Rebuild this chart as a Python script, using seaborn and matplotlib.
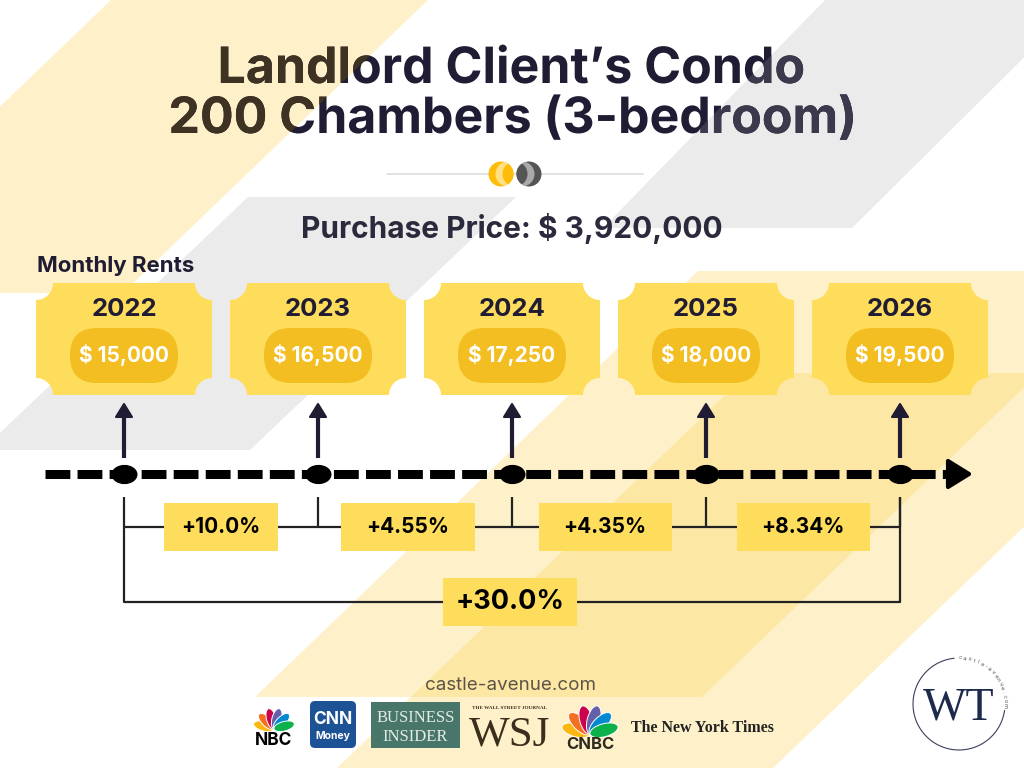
import numpy as np
import matplotlib
matplotlib.use('Agg')
import matplotlib.pyplot as plt
import seaborn as sns
from matplotlib.patches import Polygon, Rectangle, FancyBboxPatch, Ellipse, PathPatch
from matplotlib.path import Path
from matplotlib.textpath import TextPath
from matplotlib.font_manager import FontProperties
from matplotlib.transforms import Affine2D

title_lines = ['Landlord Client\u2019s Condo', '200 Chambers (3-bedroom)']
purchase_price = 3920000
years = ['2022', '2023', '2024', '2025', '2026']
rents = [15000, 16500, 17250, 18000, 19500]
step_labels = ['+10.0%', '+4.55%', '+4.35%', '+8.34%']
total_label = '+30.0%'
site = 'castle-avenue.com'

sns.set_theme(style='white')
plt.rcParams['font.family'] = ['Inter', 'DejaVu Sans']

navy = '#1f1c33'
tick_yellow = '#ffdd5c'
pill_yellow = '#f2be22'
soft_yellow = '#fdd661'
grey_bg = '#ebebeb'

fig = plt.figure(figsize=(10.24, 7.68), dpi=100)
ax = fig.add_axes([0, 0, 1, 1])
ax.set_xlim(0, 1024)
ax.set_ylim(768, 0)
ax.axis('off')

#%% background stripes
yellow_tl = [(111, 0), (428, 0), (123, 293), (-194, 293)]
yellow_a = [(698, 271), (1145, 271), (702, 697), (255, 697)]
yellow_b = [(748, 373), (1184, 373), (773, 768), (337, 768)]
grey_tr = [(825, 0), (1082, 0), (852, 228), (603, 228)]
grey_l = [(248, 197), (516, 197), (250, 450), (-18, 450)]

for poly in [yellow_tl, yellow_a, yellow_b]:
    ax.add_patch(Polygon(poly, closed=True, fc=soft_yellow, ec='none', alpha=0.34, zorder=1))
for poly in [grey_tr, grey_l]:
    ax.add_patch(Polygon(poly, closed=True, fc=grey_bg, ec='none', zorder=1))

#%% title as outlines so the stripes can tint the letters they cross
title_font = FontProperties(family='Inter', weight='bold')
for base, line in zip([83, 133], title_lines):
    tp = TextPath((0, 0), line, size=50, prop=title_font)
    ext = tp.get_extents()
    x0 = 512 - (ext.x0 + ext.x1) / 2
    path = Affine2D().scale(1, -1).translate(x0, base).transform_path(tp)
    ax.add_patch(PathPatch(path, fc=navy, ec='none', zorder=2))
    for poly, col in [(yellow_tl, '#3e3222'), (grey_tr, '#3b394b')]:
        p = PathPatch(path, fc=col, ec='none', zorder=3)
        ax.add_patch(p)
        p.set_clip_path(Polygon(poly, closed=True, transform=ax.transData))

# divider with the two half-tone dots
ax.plot([387, 643], [174, 174], color='#dedede', lw=1.2, zorder=2)
for cx, dark, light, off in [(501, '#fdbd0a', '#ffe083', 7), (529, '#555555', '#a9a9a9', -7)]:
    base_c = Ellipse((cx, 174), 25, 25, fc=dark, ec='none', zorder=3)
    ax.add_patch(base_c)
    lens = Ellipse((cx + off, 174), 25, 25, fc=light, ec='none', zorder=4)
    ax.add_patch(lens)
    lens.set_clip_path(base_c)
    inner = Ellipse((cx + 2 * off, 174), 25, 25, fc=dark, ec='none', zorder=5)
    ax.add_patch(inner)
    inner.set_clip_path(base_c)

ax.text(512, 238, f'Purchase Price: $ {purchase_price:,}', ha='center', va='baseline',
        fontsize=21.5, weight='bold', color='#2a2a3c', zorder=3)
ax.text(37, 272, 'Monthly Rents', ha='left', va='baseline', fontsize=16,
        weight='bold', color=navy, zorder=3)

#%% tickets
def ticket(x0, y0, x1, y1, r=17):
    def arc(cx, cy, a0, a1):
        a = np.radians(np.linspace(a0, a1, 24))
        return list(zip(cx + r * np.cos(a), cy + r * np.sin(a)))
    pts = arc(x1, y0, 180, 90) + arc(x1, y1, 270, 180) + arc(x0, y1, 360, 270) + arc(x0, y0, 90, 0)
    return Polygon(pts, closed=True, fc=tick_yellow, ec='none', zorder=4)

centers = [124 + 194 * i for i in range(len(years))]
for c, yr, rent in zip(centers, years, rents):
    ax.add_patch(ticket(c - 88, 283, c + 88, 395))
    ax.add_patch(FancyBboxPatch((c - 54, 328), 108, 55, boxstyle='round,pad=0,rounding_size=27',
                                fc=pill_yellow, ec='none', zorder=5))
    ax.text(c, 316, yr, ha='center', va='baseline', fontsize=18.5, weight='bold', color=navy, zorder=6)
    ax.text(c, 362, f'$ {rent:,}', ha='center', va='baseline', fontsize=15, weight='bold',
            color='white', zorder=6)
    # up arrow
    ax.plot([c, c], [416, 458], color=navy, lw=3, solid_capstyle='butt', zorder=5)
    ax.add_patch(Polygon([(c - 8, 417), (c + 8, 417), (c, 404)], closed=True, fc=navy, ec=navy,
                         lw=1.5, joinstyle='round', zorder=5))

#%% timeline
ax.plot([45, 950], [474, 474], color='black', lw=6.5, dashes=(2.75, 0.8),
        dash_capstyle='butt', zorder=5)
ax.add_patch(Polygon([(948, 461), (948, 487), (969, 474)], closed=True, fc='black', ec='black',
                     lw=3, joinstyle='round', zorder=5))
dot = Path(Affine2D().scale(1, 0.74).transform(Path.unit_circle().vertices), Path.unit_circle().codes)
sns.scatterplot(x=centers, y=[474] * len(centers), marker=dot, s=350, color='black',
                linewidth=0, legend=False, ax=ax, zorder=6)

# brackets
line_kw = dict(color='#222222', lw=1.6, zorder=4, solid_capstyle='butt')
for c in centers:
    ax.plot([c, c], [497, 527], **line_kw)
ax.plot([centers[0], centers[-1]], [527, 527], **line_kw)
ax.plot([centers[0], centers[0], centers[-1], centers[-1]], [527, 602, 602, 497], **line_kw)

box_w = [114, 134, 133, 133]
box_shift = [0, -7, -4, 0]
for i, (lab, w, sh) in enumerate(zip(step_labels, box_w, box_shift)):
    mid = (centers[i] + centers[i + 1]) / 2 + sh
    ax.add_patch(Rectangle((mid - w / 2, 503), w, 48, fc=tick_yellow, ec='none', zorder=5))
    ax.text(mid, 533, lab, ha='center', va='baseline', fontsize=15, weight='bold',
            color='black', zorder=6)
mid = (centers[0] + centers[-1]) / 2 - 2
ax.add_patch(Rectangle((mid - 67, 578), 134, 48, fc=tick_yellow, ec='none', zorder=5))
ax.text(mid, 609, total_label, ha='center', va='baseline', fontsize=19.5, weight='bold',
        color='black', zorder=6)

#%% footer
ax.text(511, 690, site, ha='center', va='baseline', fontsize=13.5, color='#5b5446', zorder=3)

def peacock(bx, by, L, W):
    cols = ['#fcb711', '#f37021', '#cc004c', '#6460aa', '#0089d0', '#0db14b']
    for a, col in zip(np.linspace(195, 345, 6), cols):
        r = np.radians(a)
        ax.add_patch(Ellipse((bx + 0.5 * L * np.cos(r), by + 0.5 * L * np.sin(r)), L, W,
                             angle=a, fc=col, ec='white', lw=0.7, zorder=6))

peacock(274, 729, 21, 9.5)
ax.text(274, 745, 'NBC', ha='center', va='baseline', fontsize=12.5, weight='bold', color='black', zorder=6)

ax.add_patch(FancyBboxPatch((310, 701), 46, 47, boxstyle='round,pad=0,rounding_size=5',
                            fc='#1d5294', ec='none', zorder=5))
ax.text(333, 724, 'CNN', ha='center', va='baseline', fontsize=12.5, weight='bold', color='white', zorder=6)
ax.text(333, 739, 'Money', ha='center', va='baseline', fontsize=7.5, weight='bold', color='white', zorder=6)

ax.add_patch(Rectangle((371, 702), 89, 46, fc='#48766a', ec='none', zorder=5))
ax.text(415.5, 722, 'BUSINESS', ha='center', va='baseline', fontsize=12,
        family='Liberation Serif', color='#e4ece4', zorder=6)
ax.text(415.5, 741, 'INSIDER', ha='center', va='baseline', fontsize=12,
        family='Liberation Serif', color='#e4ece4', zorder=6)

ax.text(510, 709, 'THE WALL STREET JOURNAL', ha='center', va='baseline', fontsize=3.8,
        family='Liberation Serif', weight='bold', color='#3a2e1d', zorder=6)
ax.text(510, 745, 'WSJ', ha='center', va='baseline', fontsize=31,
        family='Liberation Serif', color='#3a2e1d', zorder=6)

peacock(590, 734, 29, 13)
ax.text(590, 749, 'CNBC', ha='center', va='baseline', fontsize=12, weight='bold', color='#2f2a20', zorder=6)

ax.text(702, 732, 'The New York Times', ha='center', va='baseline', fontsize=11.5,
        family='Liberation Serif', weight='bold', color='#222222', zorder=6)

# WT badge
cx, cy, R = 959, 704, 46
th = np.radians(np.linspace(96, 352, 200))
ax.plot(cx + R * np.cos(th), cy - R * np.sin(th), color='#3a3f5a', lw=0.8, zorder=6)
ax.text(cx, cy + 16, 'WT', ha='center', va='baseline', fontsize=33,
        family='Liberation Serif', color='#1d2a4c', zorder=6)
for ang, ch in zip(np.linspace(88, -2, len(site)), site):
    r = np.radians(ang)
    ax.text(cx + R * np.cos(r), cy - R * np.sin(r), ch, ha='center', va='center',
            rotation=ang - 90, rotation_mode='anchor', fontsize=4.3, color='#555555', zorder=6)

ax.set_xlim(0, 1024)
ax.set_ylim(768, 0)
fig.savefig('out.png', dpi=100)
